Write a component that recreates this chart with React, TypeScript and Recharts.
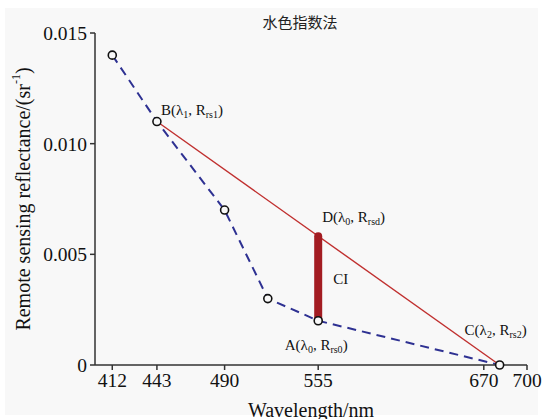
import React from "react";
import {
  LineChart,
  Line,
  XAxis,
  YAxis,
  ReferenceDot,
  Label,
} from "recharts";

// measured spectrum (wavelength in nm, Rrs in sr^-1)
const wavelengths = [412, 443, 490, 520, 555, 681];
const reflectance = [0.014, 0.011, 0.007, 0.003, 0.002, 0];

// baseline B -> C
const baselineWl = [443, 681];
const baselineR = [0.011, 0];

// colour index segment A -> D at lambda0
const ciWl = [555, 555];
const ciR = [0.002, 0.00582];

const xTicks = [412, 443, 490, 555, 670, 700];
const yTicks = [0, 0.005, 0.01, 0.015];
const yTickLabels = ["0", "0.005", "0.010", "0.015"];

const spectrum = wavelengths.map((wl, i) => ({ wl, r: reflectance[i] }));
const baseline = baselineWl.map((wl, i) => ({ wl, r: baselineR[i] }));
const ciSegment = ciWl.map((wl, i) => ({ wl, r: ciR[i] }));

const SERIF = "Liberation Serif, DejaVu Serif, serif";
const AXIS = "#333";

type Part = { t: string; sub?: boolean };

// point labels: letter(lambda_i, R_rs_x)
const pointLabel = (l: string, li: string, rs: string): Part[] => [
  { t: `${l}(λ` },
  { t: li, sub: true },
  { t: ", R" },
  { t: rs, sub: true },
  { t: ")" },
];

function annotShape(parts: Part[], dx: number, dy: number, anchor: "start" | "middle" = "start") {
  return (props: any) => {
    const { cx, cy } = props;
    return (
      <text
        x={cx + dx}
        y={cy + dy}
        textAnchor={anchor}
        dominantBaseline="central"
        fontFamily={SERIF}
        fontSize={15}
        fill="#111"
      >
        {parts.map((p, i) => {
          const prevSub = i > 0 && parts[i - 1].sub;
          let shift = 0;
          if (p.sub && !prevSub) shift = 4;
          if (!p.sub && prevSub) shift = -4;
          return (
            <tspan key={i} dy={shift} fontSize={p.sub ? 10 : 15}>
              {p.t}
            </tspan>
          );
        })}
      </text>
    );
  };
}

const OpenDot = (props: any) => {
  const { cx, cy } = props;
  if (cx == null || cy == null) return null;
  return <circle cx={cx} cy={cy} r={4} fill="#f8f8f8" stroke="#111" strokeWidth={1.6} />;
};

export default function App() {
  return (
    <div style={{ position: "fixed", left: 0, top: 0, width: 543, height: 419, background: "#fff" }}>
      <div
        style={{ position: "absolute", left: 5, top: 8, right: 5, bottom: 4, background: "#f8f8f8" }}
      />
      <div style={{ position: "absolute", left: 0, top: 0 }}>
        <LineChart
          width={543}
          height={419}
          margin={{ top: 33, right: 16, bottom: 0, left: 35 }}
        >
          <text x={300} y={21} textAnchor="middle" dominantBaseline="central" fontSize={15} fill="#222"
            fontFamily="Noto Sans CJK SC, sans-serif">
            水色指数法
          </text>
          <XAxis
            type="number"
            dataKey="wl"
            domain={[400, 700]}
            ticks={xTicks}
            allowDataOverflow
            stroke={AXIS}
            strokeWidth={1.5}
            tickSize={5}
            tick={{ fontFamily: SERIF, fontSize: 19.5, fill: "#111" }}
            tickMargin={3}
            height={54}
          >
            <Label
              content={(props: any) => {
                const vb = props.viewBox;
                return (
                  <text
                    x={vb.x + vb.width / 2}
                    y={vb.y + 45}
                    textAnchor="middle"
                    dominantBaseline="central"
                    fontFamily={SERIF}
                    fontSize={20}
                    fill="#111"
                  >
                    Wavelength/nm
                  </text>
                );
              }}
            />
          </XAxis>
          <YAxis
            type="number"
            dataKey="r"
            domain={[0, 0.015]}
            ticks={yTicks}
            tickFormatter={(v: number) => yTickLabels[yTicks.indexOf(v)] ?? String(v)}
            stroke={AXIS}
            strokeWidth={1.5}
            tickSize={5}
            tickMargin={3}
            width={60}
            tick={{ fontFamily: SERIF, fontSize: 19.5, fill: "#111" }}
          >
            <Label
              content={(props: any) => {
                const vb = props.viewBox;
                const cx = 23;
                const cy = vb.y + vb.height / 2;
                return (
                  <text
                    x={cx}
                    y={cy}
                    transform={`rotate(-90 ${cx} ${cy})`}
                    textAnchor="middle"
                    dominantBaseline="central"
                    fontFamily={SERIF}
                    fontSize={20}
                    fill="#111"
                  >
                    Remote sensing reflectance/(sr
                    <tspan dy={-7} fontSize={12}>-1</tspan>
                    <tspan dy={7}>)</tspan>
                  </text>
                );
              }}
            />
          </YAxis>
          <Line
            data={spectrum}
            dataKey="r"
            stroke="#2e3192"
            strokeWidth={2}
            strokeDasharray="9 6"
            dot={false}
            activeDot={false}
            isAnimationActive={false}
          />
          <Line
            data={baseline}
            dataKey="r"
            stroke="#c0302f"
            strokeWidth={1.4}
            dot={false}
            activeDot={false}
            isAnimationActive={false}
          />
          <Line
            data={ciSegment}
            dataKey="r"
            stroke="#a31c22"
            strokeWidth={8}
            strokeLinecap="round"
            dot={false}
            activeDot={false}
            isAnimationActive={false}
          />
          <Line
            data={spectrum}
            dataKey="r"
            stroke="none"
            dot={<OpenDot />}
            activeDot={false}
            isAnimationActive={false}
          />
          <ReferenceDot x={443} y={0.011} r={1} shape={annotShape(pointLabel("B", "1", "rs1"), 4, -12)} />
          <ReferenceDot x={555} y={0.00582} r={1} shape={annotShape(pointLabel("D", "0", "rsd"), 4, -19)} />
          <ReferenceDot x={555} y={0.0039} r={1} shape={annotShape([{ t: "CI" }], 15, 0)} />
          <ReferenceDot x={555} y={0.002} r={1} shape={annotShape(pointLabel("A", "0", "rs0"), -2, 24, "middle")} />
          <ReferenceDot x={681} y={0} r={1} shape={annotShape(pointLabel("C", "2", "rs2"), -4, -35, "middle")} />
        </LineChart>
      </div>
    </div>
  );
}
